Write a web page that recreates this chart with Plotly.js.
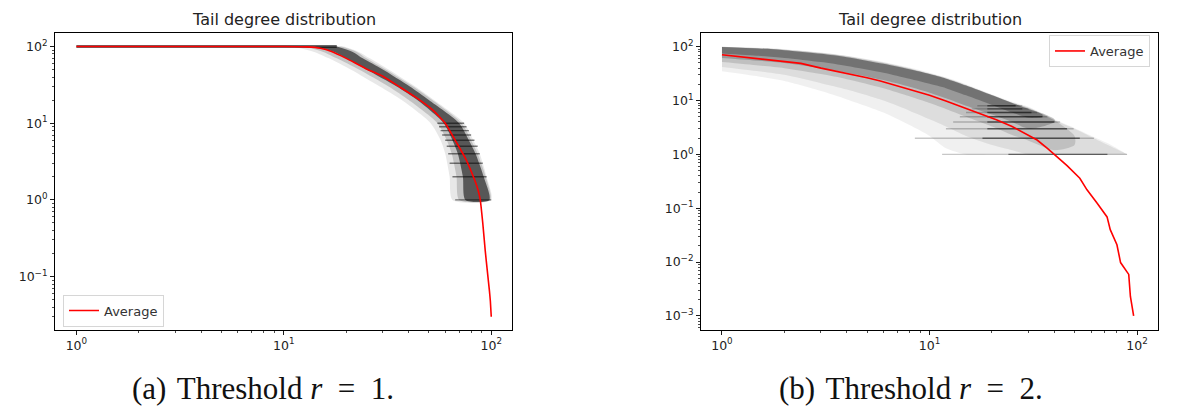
<!DOCTYPE html>
<html>
<head>
<meta charset="utf-8">
<script src="https://cdn.plot.ly/plotly-3.0.1.min.js"></script>
<style>
html,body{margin:0;padding:0;background:#fff;}
#chart{width:1183px;height:412px;}
</style>
</head>
<body>
<div id="chart"></div>
<script>
// ---------- Panel (a): threshold r = 1 ----------
const L_red_x = [1,5,10,13,15,17,20,25,30,36,43,52,60,68,75,82,86,88.5,91,93.5,96,98,99,100];
const L_red_y = [100,100,100,99,95,86,70,51,41,30,22,15,10,5.6,3.5,2.0,1.4,1.0,0.5,0.22,0.11,0.065,0.048,0.03];
const L_flat_x = [1,18];
const L_flat_y = [100,100];
const L_band_y   = [100, 85, 70, 50, 30, 20, 10, 6, 4, 2, 1];
const L_l1_left  = [11, 14, 16.5, 21, 29, 37, 51, 57, 60, 63, 65];
const L_l1_right = [19.5, 23, 26, 32, 43, 53, 74, 82, 88, 95, 100];
const L_l2_left  = [12.5, 15.5, 18, 23, 32, 40, 55, 61, 64.5, 68, 70];
const L_l2_right = [19, 22.5, 25, 31, 42, 52, 72, 80, 86, 94, 99];
const L_l3_left  = [14, 17.5, 20, 25, 35, 44, 59, 65, 69, 73, 75];
const L_l3_right = [18, 21.5, 24, 30, 40.5, 50, 70, 78, 84, 92, 98];
const L_step_y  = [1,2,3,4,5,6,7,8,9,10];
const L_step_x0 = [67,65,63,62,61,60,58,57,56,55];
const L_step_x1 = [100,95,91,88,86,83,80,78,76,74];

// ---------- Panel (b): threshold r = 2 ----------
const R_red_x = [1,1.5,2,2.4,3,4,5,5.8,7,8.5,10,12,14,17.5,21,25,29,33,37,41,46,53,57.4,64,71.7,74.3,80,83.3,89.5,91.2,92.9,96.3];
const R_red_y = [71,60,53,49,40,32,26.5,23,18.7,15.1,12.5,9.8,7.9,5.8,4.4,3.3,2.45,1.85,1.29,0.93,0.62,0.36,0.22,0.126,0.069,0.04,0.021,0.0098,0.0063,0.0059,0.0023,0.001];
const R_band_x = [1, 1.5, 2, 3, 4, 6, 8, 10, 12, 15, 20, 25, 30, 40, 50, 62, 75, 90];
const R_l1_top = [100, 96, 90, 78, 68, 52, 41, 33, 27, 20, 13, 9.5, 7.7, 4.5, 3.1, 2.1, 1.5, 1];
const R_l1_bot = [35, 28, 23, 15, 10.5, 6, 3.5, 2.2, 1.3, 1, 1, 1, 1, 1, 1, 1, 1, 1];
const R_l2_top = [100, 95, 89, 77, 67, 51, 40, 32, 26.5, 19.5, 12.8, 9.2, 7.4, 4.3, 3.0, 2.0, 1.4, 1];
const R_l2_bot = [42, 35, 30, 21, 16, 10, 6.5, 4.5, 3.3, 2.2, 1.5, 1.2, 1, 1, 1, 1, 1, 1];
const R_l3_x   = [1, 1.5, 2, 3, 4, 6, 8, 10, 12, 15, 20, 25, 30, 40, 50];
const R_l3_top = [100, 94, 88, 76, 66, 50, 39.5, 31.5, 26, 19.3, 12.7, 9.1, 7.3, 4.3, 2.2];
const R_l3_bot = [52, 45, 40, 31, 25, 17, 12, 9, 7, 5, 3.3, 2.3, 1.8, 1.2, 1.5];
const R_l4_x   = [1, 1.5, 2, 3, 4, 6, 8, 10, 12, 15, 20, 25, 30, 35, 40];
const R_l4_top = [99, 93, 86, 74, 64, 48, 38, 31, 25.5, 19, 12.5, 9, 7, 5.8, 4.5];
const R_l4_bot = [62, 55, 50, 40, 33, 24, 18, 14, 11, 8, 5.5, 4, 3, 3.3, 4.0];
const R_l5_x   = [1, 1.5, 2, 3, 4, 6, 8, 10, 12, 15, 20, 25, 30, 35];
const R_l5_top = [99, 93, 86, 74, 64, 48, 38, 31, 25.5, 19, 12.5, 9, 7, 5.5];
const R_l5_bot = [75, 68, 62, 52, 44, 33, 25.5, 20.5, 17, 12.5, 8.3, 6, 4.8, 5.0];
const R_step_y  = [1,2,3,4,5,6,7,8];
const R_step_x0 = [11.5, 8.5, 12, 13, 14, 15, 16, 17];
const R_step_x1 = [89.5, 62, 49.5, 42.6, 37, 33, 30, 28];
const R_step_c0 = [24, 18, 19, 19, 19, 19, 19, 19];
const R_step_c1 = [72, 53, 46, 40, 35, 31, 28, 26];

// ---------- text ----------
const TITLE = 'Tail degree distribution';
const CAP_A = '(a) \u200AThreshold <i>r</i>\u2002=\u20021.';
const CAP_B = '(b) \u200AThreshold <i>r</i>\u2002=\u20022.';
const LEG = 'Average';
const TICK_VALS_X = [1,10,100];
const TICK_TEXT_X = ['10<sup>0</sup>','10<sup>1</sup>','10<sup>2</sup>'];
const TICK_VALS_YA = [0.1,1,10,100];
const TICK_TEXT_YA = ['10<sup>\u22121</sup>','10<sup>0</sup>','10<sup>1</sup>','10<sup>2</sup>'];
const TICK_VALS_YB = [0.001,0.01,0.1,1,10,100];
const TICK_TEXT_YB = ['10<sup>\u22123</sup>','10<sup>\u22122</sup>','10<sup>\u22121</sup>','10<sup>0</sup>','10<sup>1</sup>','10<sup>2</sup>'];

// ---------- helpers ----------
function rev(a){ return a.slice().reverse(); }
function segs(y, x0, x1){
  const xs=[], ys=[];
  for(let i=0;i<y.length;i++){ xs.push(x0[i], x1[i], null); ys.push(y[i], y[i], null); }
  return {x:xs, y:ys};
}
function minorVals(lo, hi){
  const v=[];
  for(let e=lo;e<=hi;e++){ for(let d=2;d<=9;d++){ v.push(d*Math.pow(10,e)); } }
  return v;
}
function band(xa, ya, xb, yb, alpha, ax, ay, smooth){
  return {x: xa.concat(rev(xb)), y: ya.concat(rev(yb)), xaxis:ax, yaxis:ay, mode:'lines',
    fill:'toself', fillcolor:'rgba(0,0,0,'+alpha+')',
    line:{width:0, color:'rgba(0,0,0,0)', shape: smooth ? 'spline' : 'linear', smoothing:0.7},
    showlegend:false, hoverinfo:'skip'};
}

const traces = [];
// panel a
traces.push(band(L_l1_left, L_band_y, L_l1_right, L_band_y, 0.09, 'x', 'y', true));
traces.push(band(L_l2_left, L_band_y, L_l2_right, L_band_y, 0.16, 'x', 'y', true));
traces.push(band(L_l3_left, L_band_y, L_l3_right, L_band_y, 0.55, 'x', 'y', true));
const ls = segs(L_step_y, L_step_x0, L_step_x1);
traces.push({x: ls.x, y: ls.y, xaxis:'x', yaxis:'y', mode:'lines',
  line:{width:1.4, color:'rgba(0,0,0,0.5)'}, showlegend:false, hoverinfo:'skip'});
traces.push({x: L_flat_x, y: L_flat_y, xaxis:'x', yaxis:'y', mode:'lines',
  line:{width:3, color:'rgba(0,0,0,0.6)'}, showlegend:false, hoverinfo:'skip'});
traces.push({x: L_red_x, y: L_red_y, xaxis:'x', yaxis:'y', mode:'lines', name: LEG,
  line:{width:1.6, color:'#ff0000', shape:'spline', smoothing:0.4}, legend:'legend', showlegend:true});

// panel b
traces.push(band(R_band_x, R_l1_top, R_band_x, R_l1_bot, 0.06, 'x2', 'y2', true));
traces.push(band(R_band_x, R_l2_top, R_band_x, R_l2_bot, 0.08, 'x2', 'y2', true));
traces.push(band(R_l3_x, R_l3_top, R_l3_x, R_l3_bot, 0.13, 'x2', 'y2', true));
traces.push(band(R_l4_x, R_l4_top, R_l4_x, R_l4_bot, 0.2, 'x2', 'y2', true));
traces.push(band(R_l5_x, R_l5_top, R_l5_x, R_l5_bot, 0.25, 'x2', 'y2', true));
const rs = segs(R_step_y, R_step_x0, R_step_x1);
traces.push({x: rs.x, y: rs.y, xaxis:'x2', yaxis:'y2', mode:'lines',
  line:{width:1.4, color:'rgba(0,0,0,0.22)'}, showlegend:false, hoverinfo:'skip'});
const rc = segs(R_step_y, R_step_c0, R_step_c1);
traces.push({x: rc.x, y: rc.y, xaxis:'x2', yaxis:'y2', mode:'lines',
  line:{width:1.4, color:'rgba(0,0,0,0.5)'}, showlegend:false, hoverinfo:'skip'});
traces.push({x: R_red_x, y: R_red_y, xaxis:'x2', yaxis:'y2', mode:'lines', name: LEG,
  line:{width:1.6, color:'#ff0000'}, legend:'legend2', showlegend:true});

const W = 1183, H = 412;
function axisBase(){
  return {type:'log', showgrid:false, zeroline:false, showline:true, mirror:true,
    linecolor:'#000', linewidth:1, ticks:'outside', ticklen:4, tickwidth:0.9, tickcolor:'#000',
    tickmode:'array', tickfont:{family:'DejaVu Sans', size:12.5, color:'#222'}, fixedrange:true};
}
function minorSpec(lo, hi){
  return {tickmode:'array', tickvals:minorVals(lo,hi), ticks:'outside', ticklen:2, tickwidth:0.7, tickcolor:'#000'};
}
const xa = Object.assign(axisBase(), {domain:[55/W, 512/W], range:[-0.103, 2.1], anchor:'y',
  tickvals:TICK_VALS_X, ticktext:TICK_TEXT_X, minor:minorSpec(0,1)});
const ya = Object.assign(axisBase(), {domain:[(H-329.5)/H, (H-33.3)/H], range:[-1.69, 2.172], anchor:'x',
  tickvals:TICK_VALS_YA, ticktext:TICK_TEXT_YA, minor:minorSpec(-2,1)});
const xb = Object.assign(axisBase(), {domain:[701/W, 1158/W], range:[-0.101, 2.101], anchor:'y2',
  tickvals:TICK_VALS_X, ticktext:TICK_TEXT_X, minor:minorSpec(0,1)});
const yb = Object.assign(axisBase(), {domain:[(H-329.5)/H, (H-33.3)/H], range:[-3.252, 2.249], anchor:'x2',
  tickvals:TICK_VALS_YB, ticktext:TICK_TEXT_YB, minor:minorSpec(-4,1)});

const legFont = {family:'DejaVu Sans', size:13, color:'#333'};
const layout = {
  width:W, height:H, margin:{l:0,r:0,t:0,b:0},
  paper_bgcolor:'#fff', plot_bgcolor:'#fff',
  xaxis:xa, yaxis:ya, xaxis2:xb, yaxis2:yb,
  legend:{x:63/W, y:(H-310.5)/H, xanchor:'left', yanchor:'middle', bgcolor:'#fff',
    bordercolor:'#d6d6d6', borderwidth:1, font:legFont},
  legend2:{x:1150/W, y:(H-51)/H, xanchor:'right', yanchor:'middle', bgcolor:'#fff',
    bordercolor:'#d6d6d6', borderwidth:1, font:legFont},
  annotations:[
    {text:TITLE, xref:'paper', yref:'paper', x:283.5/W, y:(H-20)/H, xanchor:'center', yanchor:'middle',
      showarrow:false, font:{family:'DejaVu Sans', size:16, color:'#222'}},
    {text:TITLE, xref:'paper', yref:'paper', x:929.5/W, y:(H-20)/H, xanchor:'center', yanchor:'middle',
      showarrow:false, font:{family:'DejaVu Sans', size:16, color:'#222'}},
    {text:CAP_A, xref:'paper', yref:'paper', x:262.5/W, y:(H-388)/H, xanchor:'center', yanchor:'middle',
      showarrow:false, font:{family:'Liberation Serif', size:31, color:'#111'}},
    {text:CAP_B, xref:'paper', yref:'paper', x:910.5/W, y:(H-388)/H, xanchor:'center', yanchor:'middle',
      showarrow:false, font:{family:'Liberation Serif', size:31, color:'#111'}}
  ],
  showlegend:true, hovermode:false
};
Plotly.newPlot('chart', traces, layout, {staticPlot:true, displayModeBar:false});
</script>
</body>
</html>
